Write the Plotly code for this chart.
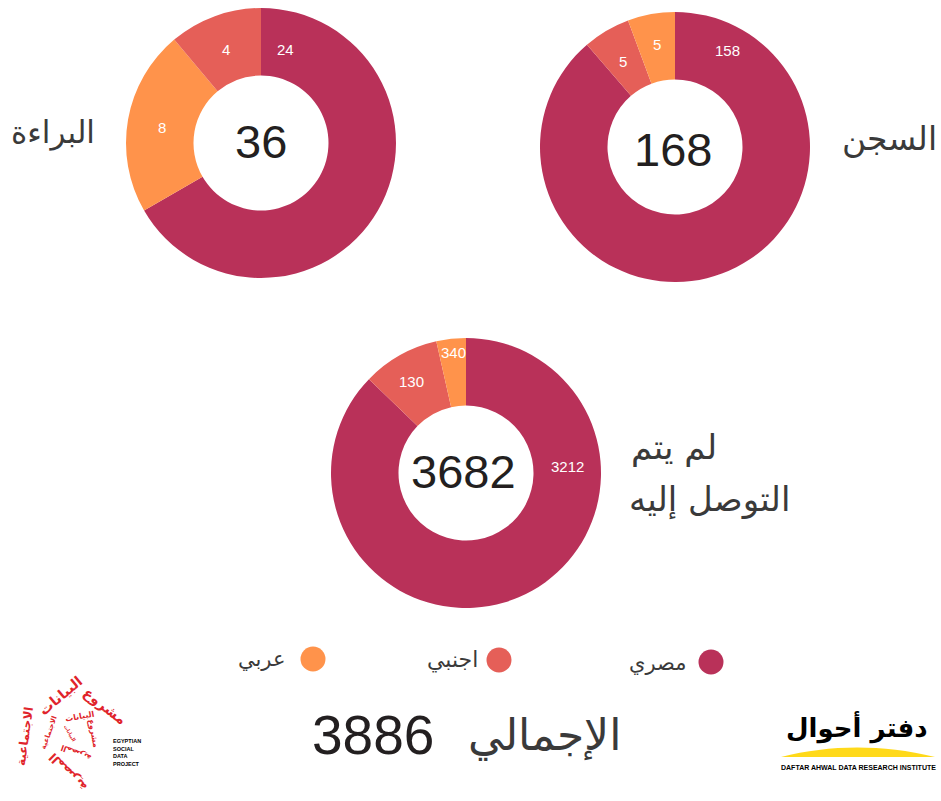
import plotly.graph_objects as go

W, H = 941, 801
COLORS = ["#B93159", "#E55F58", "#FF934B"]

# drawn slice sizes and the printed labels (the reference's labels differ from its slice sizes in places)
left_values = [24, 8, 4]
left_labels = ["24", "8", "4"]
left_colors = [COLORS[0], COLORS[2], COLORS[1]]
left_total = "36"
left_title = "البراءة"

right_values = [149, 9.5, 9.5]
right_labels = ["158", "5", "5"]
right_total = "168"
right_title = "السجن"

bottom_values = [3212, 340, 130]
bottom_labels = ["3212", "130", "340"]
bottom_total = "3682"
bottom_title = ["لم يتم", "التوصل إليه"]

legend_names = ["مصري", "اجنبي", "عربي"]
legend_x = [711, 499, 313]
legend_y = [662, 660, 659]
grand_label = "الإجمالي"
grand_total = "3886"

AR = "DejaVu Sans"
NUM = "Liberation Sans"
INK = "#231F20"
AR_INK = "#3A3A3A"

fig = go.Figure()


def pie(values, colors, cx, cy, r=135):
    fig.add_trace(go.Pie(
        values=values, textinfo="none", sort=False, direction="clockwise",
        rotation=0, hole=0.5, marker=dict(colors=colors, line=dict(width=0)),
        domain=dict(x=[(cx - r) / W, (cx + r) / W], y=[1 - (cy + r) / H, 1 - (cy - r) / H]),
        showlegend=False, hoverinfo="skip"))


pie(left_values, left_colors, 261, 143)
pie(right_values, COLORS, 675, 147)
pie(bottom_values, COLORS, 466, 473)

# legend dots on a full-canvas pixel axis
fig.add_trace(go.Scatter(x=legend_x, y=legend_y, mode="markers",
                         marker=dict(size=25, color=COLORS), showlegend=False, hoverinfo="skip"))


def note(x, y, text, size, family=AR, color=AR_INK, anchor="center", angle=0):
    fig.add_annotation(x=x, y=y, xref="x", yref="y", text=text, showarrow=False, xanchor=anchor,
                       yanchor="middle", textangle=angle, font=dict(family=family, size=size, color=color))


# slice labels
for (x, y), t in zip([(285, 49), (162, 127), (226, 49)], left_labels):
    note(x, y, t, 15, NUM, "white")
for (x, y), t in zip([(727, 50), (623, 61), (657, 44)], right_labels):
    note(x, y, t, 15, NUM, "white")
for (x, y), t in zip([(567, 466), (411, 381), (453, 352)], bottom_labels):
    note(x, y, t, 15, NUM, "white")

note(261, 141, left_total, 47, NUM, INK)
note(673, 149, right_total, 47, NUM, INK)
note(463, 471, bottom_total, 47, NUM, INK)
note(53, 132, left_title, 31)
note(889, 138, right_title, 33)
note(674, 447, bottom_title[0], 34)
note(709, 499, bottom_title[1], 34)
for name, x, y, s in zip(legend_names, [657, 452, 261], [663, 660, 659], [21, 22, 21]):
    note(x, y, name, s)
note(373, 735, grand_total, 55, NUM, INK)
note(544, 735, grand_label, 44)

# Right logo: yellow dune, calligraphy, caption
fig.add_shape(type="path", xref="x", yref="y", line_width=0, fillcolor="#FFD91A",
              path="M781 757 C 830 745, 880 744, 935 757 Z", layer="below")
note(857, 727, "<b>دفتر أحوال</b>", 26, AR, "black")
note(858, 767, "<b>DAFTAR AHWAL DATA RESEARCH INSTITUTE</b>", 7, NUM, "black")

# Left logo: Arabic text wound into a spiral, with caption
RED = "#E0242B"
spiral = [(105, 706, "مشروع", 14, 38), (60, 696, "البيانات", 14, -40), (25, 736, "الاجتماعية", 12, -82),
          (68, 772, "المصرية", 12, -135), (80, 716, "البيانات", 8, -10),
          (94, 733, "مشروع", 8, 80), (49, 733, "الاجتماعية", 7, -70), (76, 753, "المصرية", 8, -160),
          (70, 733, "البيانات", 5, 60)]
for x, y, t, s, a in spiral:
    note(x, y, f"<b>{t}</b>", s, AR, RED, angle=a)
for i, t in enumerate(["EGYPTIAN", "SOCIAL", "DATA", "PROJECT"]):
    note(111, 741 + i * 7.6, f"<b>{t}</b>", 5.5, NUM, "black", anchor="left")

fig.update_layout(
    width=W, height=H, margin=dict(l=0, r=0, t=0, b=0), paper_bgcolor="white", plot_bgcolor="rgba(0,0,0,0)",
    xaxis=dict(range=[0, W], visible=False, domain=[0, 1]),
    yaxis=dict(range=[H, 0], visible=False, domain=[0, 1]),
)
fig.write_html("out.html", config=dict(displayModeBar=False),
               post_script="document.body.style.margin='0';document.body.style.overflow='hidden';")
